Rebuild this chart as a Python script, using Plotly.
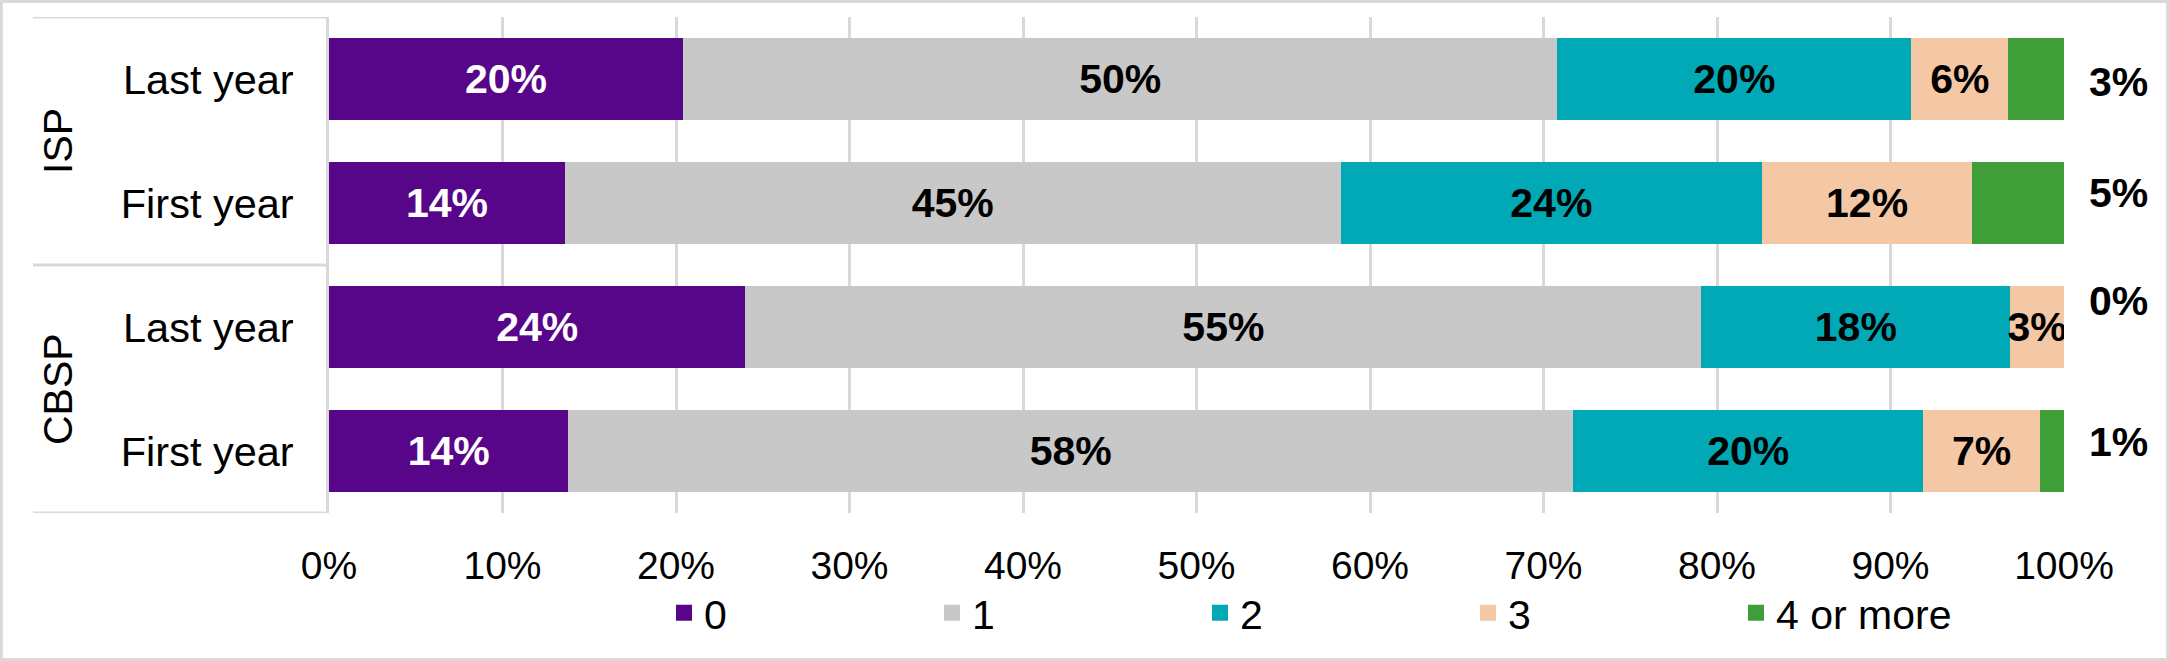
import plotly.graph_objects as go

# ---- data ----
groups = ["ISP", "ISP", "CBSP", "CBSP"]
periods = ["Last year", "First year", "Last year", "First year"]
series_names = ["0", "1", "2", "3", "4 or more"]
v_0 = [20.4, 13.6, 24.0, 13.8]
v_1 = [50.4, 44.7, 55.1, 57.9]
v_2 = [20.4, 24.3, 17.8, 20.2]
v_3 = [5.6, 12.1, 3.1, 6.7]
v_4 = [3.2, 5.3, 0.0, 1.4]
x_ticks = list(range(0, 101, 10))

# ---- style ----
colors = ["#580689", "#c8c8c8", "#00a9b5", "#f4c7a5", "#409e38"]
label_colors = ["#ffffff", "#000000", "#000000", "#000000", "#000000"]
outside_label_yshift = [-3, 10, 26, 9]
FONT = "Arial, Liberation Sans, sans-serif"
W, H = 2169, 661
ML, MR, MT, MB = 329, 105, 17, 148
PW = W - ML - MR
PH = H - MT - MB
GRID = "#d9d9d9"

keys = [f"{g}|{p}" for g, p in zip(groups, periods)]
series_values = [v_0, v_1, v_2, v_3, v_4]

fig = go.Figure()
for i, (name, vals) in enumerate(zip(series_names, series_values)):
    inside = i < len(series_names) - 1
    fig.add_trace(go.Bar(
        orientation="h", x=vals, y=keys, name=name,
        marker=dict(color=colors[i], line=dict(width=0)),
        text=[f"{v:.0f}%" if (inside and v > 0) else "" for v in vals],
        textposition="inside", insidetextanchor="middle", constraintext="none",
        textangle=0,
        textfont=dict(family=FONT, size=41, color=label_colors[i], weight="bold"),
        showlegend=False, hoverinfo="skip",
    ))
# legend entries
for name, c in zip(series_names, colors):
    fig.add_trace(go.Scatter(x=[None], y=[None], mode="markers", name=name,
                             marker=dict(symbol="square", size=20, color=c)))

# outside labels for "4 or more"
totals = [sum(s[j] for s in series_values) for j in range(len(keys))]
for j, k in enumerate(keys):
    fig.add_annotation(x=totals[j], y=k, text=f"<b>{v_4[j]:.0f}%</b>", showarrow=False,
                       xanchor="center", xshift=54, yshift=outside_label_yshift[j],
                       font=dict(family=FONT, size=41, color="#000000"))

# group labels and table lines
label_left = -(ML - 33) / PW
uniq = []
for g in groups:
    if g not in uniq:
        uniq.append(g)
bounds = [-0.5]
for g in uniq:
    idx = [j for j, gg in enumerate(groups) if gg == g]
    fig.add_annotation(x=-(ML - 58) / PW, xref="paper", xanchor="center",
                       y=sum(idx) / len(idx), yref="y", yanchor="middle",
                       text=g, textangle=-90, showarrow=False,
                       font=dict(family=FONT, size=41, color="#000000"))
    bounds.append(max(idx) + 0.5)
for b in bounds:
    fig.add_shape(type="line", xref="paper", x0=label_left, x1=0, yref="y", y0=b, y1=b,
                  line=dict(color=GRID, width=3))
# outer frame
fig.add_shape(type="rect", xref="paper", yref="paper",
              x0=-ML / PW + 0.0005, x1=1 + MR / PW - 0.0005,
              y0=-MB / PH + 0.002, y1=1 + MT / PH - 0.002,
              line=dict(color=GRID, width=4))

fig.update_layout(
    width=W, height=H, margin=dict(l=ML, r=MR, t=MT, b=MB, autoexpand=False),
    paper_bgcolor="white", plot_bgcolor="white",
    barmode="stack", bargap=0.34,
    font=dict(family=FONT, size=39, color="#000000"),
    showlegend=True,
    legend=dict(orientation="h", x=(687 - ML - 23) / PW, xanchor="left",
                y=-100 / PH, yanchor="middle", entrywidth=223, entrywidthmode="pixels",
                traceorder="normal",
                font=dict(family=FONT, size=41, color="#000000"), bgcolor="rgba(0,0,0,0)"),
    xaxis=dict(range=[0, 100], tickvals=x_ticks, ticktext=[f"{t}%" for t in x_ticks],
               showgrid=True, gridcolor=GRID, gridwidth=3, zeroline=False,
               showline=False, ticks="", tickfont=dict(size=39), ticklabelstandoff=26,
               fixedrange=True, automargin=False),
    yaxis=dict(type="category", categoryarray=keys, range=[len(keys) - 0.5, -0.5],
               tickvals=keys, ticktext=periods, showgrid=False, ticks="",
               showline=True, linecolor=GRID, linewidth=3, automargin=False,
               tickfont=dict(size=41.5), ticklabelstandoff=24),
)

fig.write_html("out.html", config={"displayModeBar": False},
               post_script="document.body.style.margin='0';document.body.style.overflow='hidden';")
